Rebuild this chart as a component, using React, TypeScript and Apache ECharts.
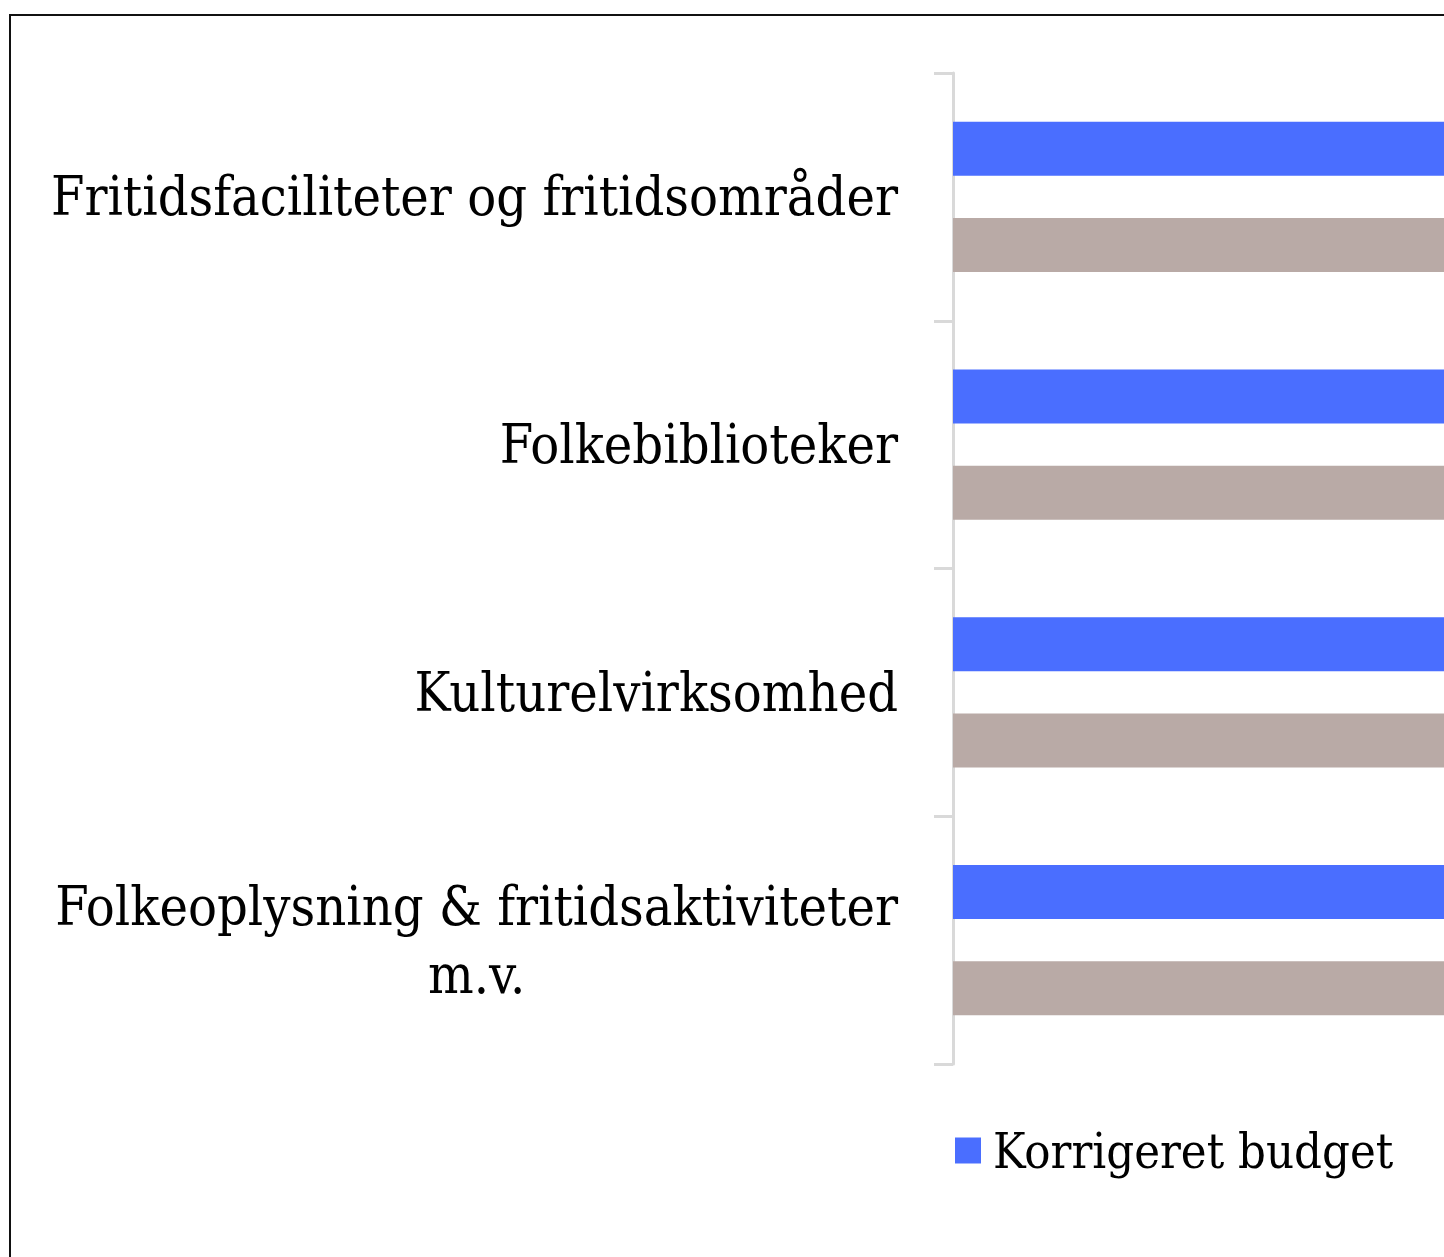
import React, { useEffect, useRef } from "react";
import * as echarts from "echarts";

const categories = [
  "Fritidsfaciliteter og fritidsområder",
  "Folkebiblioteker",
  "Kulturelvirksomhed",
  "Folkeoplysning & fritidsaktiviteter\nm.v.",
];
const seriesNames = ["Korrigeret budget", "Forbrug"];
const budgetValues = [41.2, 27.8, 32.5, 22.4];
const spentValues = [40.5, 27.1, 31.0, 21.9];

const FONT = "'DejaVu Serif Condensed', 'DejaVu Serif', serif";

export default function App() {
  const ref = useRef<HTMLDivElement>(null);
  useEffect(() => {
    if (!ref.current) return;
    const chart = echarts.init(ref.current, null, { renderer: "svg" });
    chart.setOption({
      animation: false,
      backgroundColor: "transparent",
      grid: { left: 953, top: 73, height: 991, width: 1647, containLabel: false },
      legend: {
        data: [seriesNames[0]],
        left: 950,
        top: 1121,
        icon: "rect",
        itemWidth: 26,
        itemHeight: 26,
        textStyle: {
          fontFamily: FONT,
          fontSize: 48.5,
          color: "#000",
          padding: [0, 0, 0, 7],
        },
      },
      xAxis: {
        type: "value",
        min: 0,
        max: 60,
        show: false,
      },
      yAxis: {
        type: "category",
        inverse: true,
        data: categories,
        axisLine: { show: true, lineStyle: { color: "#d9d9d9", width: 3 } },
        axisTick: { show: true, length: 19, lineStyle: { color: "#d9d9d9", width: 3 } },
        axisLabel: {
          margin: 55,
          color: "#000",
          fontFamily: FONT,
          fontSize: 53.6,
          formatter: (v: string) =>
            v
              .split("\n")
              .map((l) => `{c|${l}}`)
              .join("\n"),
          rich: {
            c: {
              align: "center",
              fontFamily: FONT,
              fontSize: 53.6,
              color: "#000",
              lineHeight: 68,
            },
          },
        },
        splitLine: { show: false },
      },
      series: [
        {
          name: seriesNames[0],
          type: "bar",
          data: budgetValues,
          barWidth: 54,
          barGap: "78%",
          itemStyle: { color: "#4a6eff" },
        },
        {
          name: seriesNames[1],
          type: "bar",
          data: spentValues,
          barWidth: 54,
          barGap: "78%",
          itemStyle: { color: "#b9aaa6" },
        },
      ],
    });
    return () => chart.dispose();
  }, []);

  return (
    <div
      style={{
        position: "fixed",
        left: 0,
        top: 0,
        width: 1444,
        height: 1257,
        overflow: "hidden",
        background: "#fff",
      }}
    >
      <div
        style={{
          position: "absolute",
          left: 9,
          top: 14,
          width: 1500,
          height: 1300,
          borderLeft: "2px solid #111",
          borderTop: "2px solid #111",
          boxSizing: "border-box",
        }}
      />
      <div
        ref={ref}
        style={{ position: "absolute", left: 0, top: 0, width: 2620, height: 1257 }}
      />
    </div>
  );
}
